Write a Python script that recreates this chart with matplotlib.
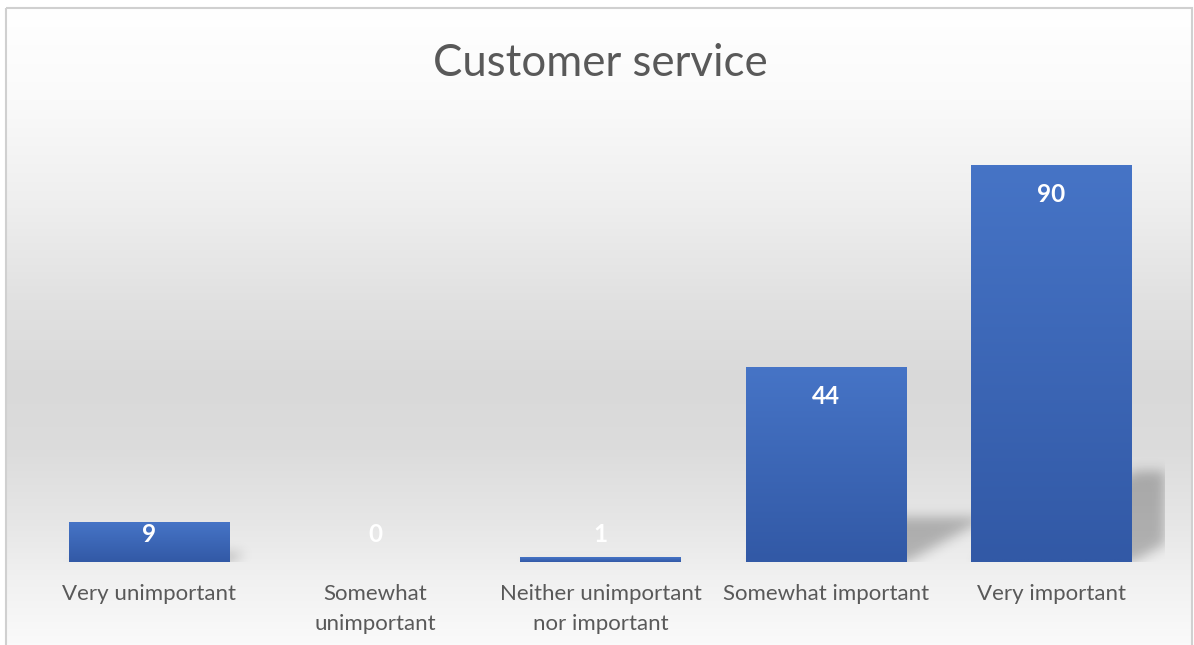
import numpy as np
import matplotlib.pyplot as plt
from matplotlib.colors import to_rgb
from matplotlib.patches import Rectangle

# survey answers
categories = ['Very unimportant', 'Somewhat\nunimportant', 'Neither unimportant\nnor important',
              'Somewhat important', 'Very important']
counts = [9, 0, 1, 44, 90]
title = 'Customer service'

W, H = 1194, 645
plt.rcParams['font.family'] = ['Lato', 'DejaVu Sans']

fig = plt.figure(figsize=(W / 100, H / 100), dpi=100)

# chart area background: vertical grey gradient inside a thin border
bg = fig.add_axes([0, 0, 1, 1], zorder=-10)
bg.set_xlim(0, W)
bg.set_ylim(H, 0)
bg.axis('off')
stops_y = [8, 100, 200, 300, 380, 450, 520, 580, 650]
stops_c = ['#ffffff', '#fafafa', '#efefef', '#e1e1e1', '#d9d9d9', '#dcdcdc', '#e6e6e6', '#f1f1f1', '#fbfbfb']
yy = np.arange(8, 650)
rgb = np.array([to_rgb(c) for c in stops_c])
grad = np.stack([np.interp(yy, stops_y, rgb[:, i]) for i in range(3)], axis=1)[:, None, :]
bg.imshow(grad, extent=(6, 1192, 650, 8), aspect='auto', interpolation='bilinear')
bg.add_patch(Rectangle((6, 8), 1186, 660, fill=False, ec='#d0d0d0', lw=1.5))
bg.set_xlim(0, W)
bg.set_ylim(H, 0)

# plot area
left, right, base, top = 36.75, 1164.25, 562, 121
ax = fig.add_axes([left / W, 1 - base / H, (right - left) / W, (base - top) / H])
ax.set_facecolor('none')
x = np.arange(len(counts))
ax.set_xlim(-0.5, len(counts) - 0.5)
ax.set_ylim(0, 100)
for s in ax.spines.values():
    s.set_visible(False)
ax.set_yticks([])

bw = 0.71

# soft perspective shadow behind the bars
pw, ph = int(right - left), int(base - top)
px_per_x = pw / len(counts)
px_per_y = ph / 100.0
gx = np.arange(pw)[None, :] + 0.5
gy = np.arange(ph)[:, None] + 0.5          # pixels above baseline
mask = np.zeros((ph, pw))
squash, shear = 0.23, 1.8
for xi, v in zip(x, counts):
    hpx = v * px_per_y
    xl = (xi + 0.5 - bw / 2) * px_per_x
    xr = (xi + 0.5 + bw / 2) * px_per_x
    inside = (gy <= squash * hpx) & (gx >= xl + shear * gy) & (gx <= xr + shear * gy)
    mask = np.maximum(mask, inside.astype(float))
sig = 6
k = np.exp(-0.5 * (np.arange(-3 * sig, 3 * sig + 1) / sig) ** 2)
k /= k.sum()
mask = np.apply_along_axis(lambda r: np.convolve(r, k, mode='same'), 1, mask)
mask = np.apply_along_axis(lambda c: np.convolve(c, k, mode='same'), 0, mask)
shadow = np.zeros((ph, pw, 4))
shadow[..., 3] = mask[::-1] * 0.25
ax.imshow(shadow, extent=(-0.5, len(counts) - 0.5, 0, ph / px_per_y), aspect='auto', zorder=1)

# bars with a top-to-bottom blue gradient
bars = ax.bar(x, counts, width=bw, color='#3b66b5', zorder=2)
c_top, c_bot = np.array(to_rgb('#4674c6')), np.array(to_rgb('#3259a6'))
for b, v in zip(bars, counts):
    if v <= 0:
        continue
    t = np.linspace(0, 1, 64)[:, None]
    g = (c_top * (1 - t) + c_bot * t)[:, None, :]
    ax.imshow(g, extent=(b.get_x(), b.get_x() + b.get_width(), 0, v), aspect='auto',
              zorder=3, interpolation='bilinear')
ax.set_xlim(-0.5, len(counts) - 0.5)
ax.set_ylim(0, 100)

# value labels
for xi, v in zip(x, counts):
    if v * px_per_y > 60:
        ax.annotate(str(v), (xi, v), xytext=(0, -29), textcoords='offset pixels',
                    ha='center', va='center', color='white', fontsize=17.5, fontweight='bold', zorder=5)
    else:
        ax.annotate(str(v), (xi, 0), xytext=(0, 27), textcoords='offset pixels',
                    ha='center', va='center', color='white', fontsize=17.5, fontweight='bold', zorder=5)

ax.set_xticks(x)
ax.set_xticklabels(categories, fontsize=16, color='#595959', linespacing=1.62)
ax.tick_params(axis='x', length=0, pad=16)

fig.text(600 / W, 1 - 63 / H, title, ha='center', va='center', fontsize=31.5, color='#595959')

fig.savefig('out.png', dpi=100)
